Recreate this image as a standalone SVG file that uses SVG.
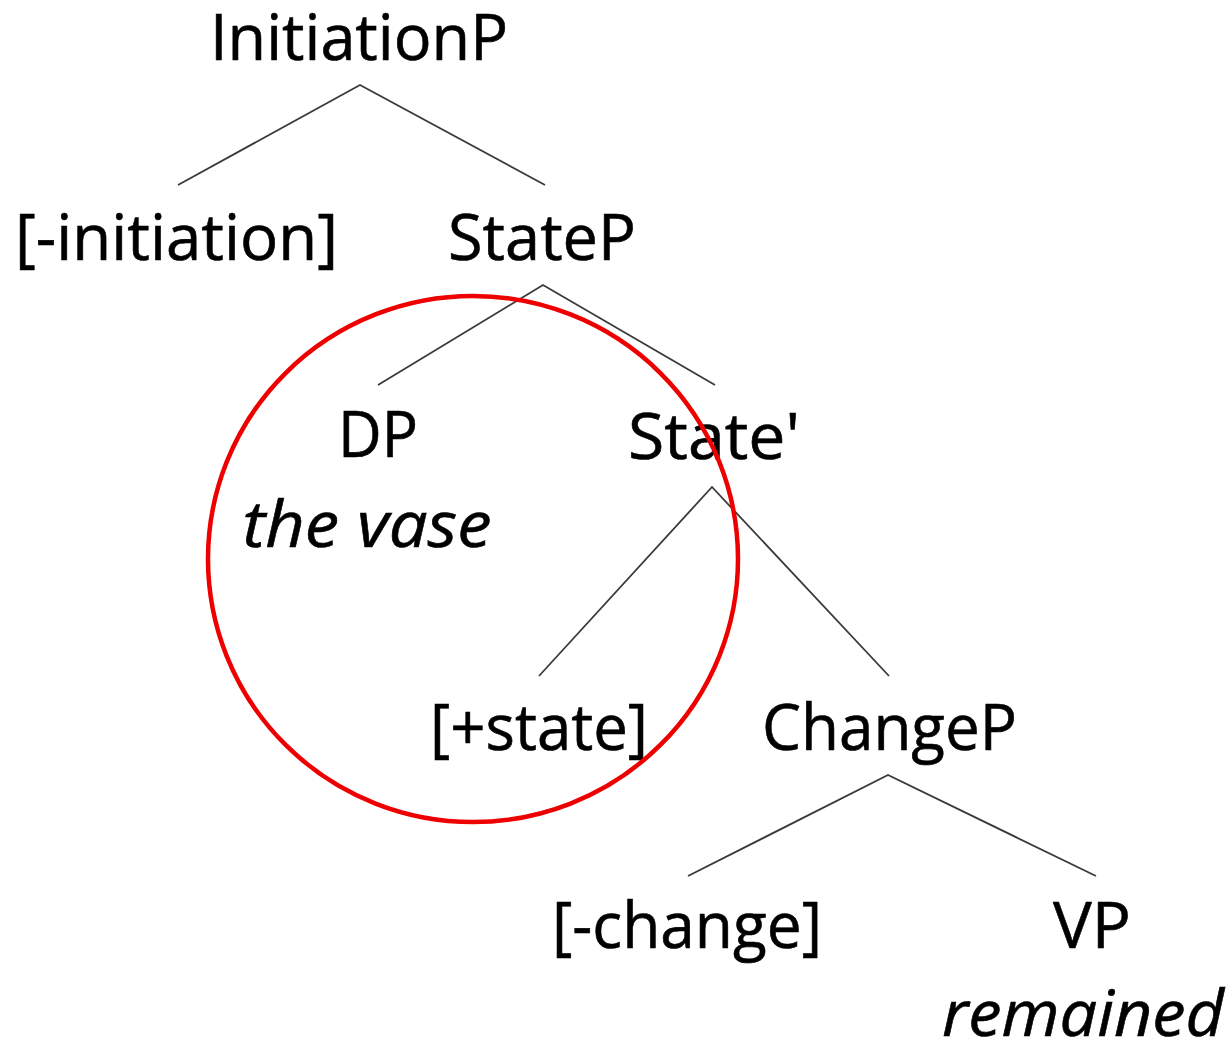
<svg xmlns="http://www.w3.org/2000/svg" width="1232" height="1044" viewBox="0 0 1232 1044">
<style>
text{font-family:"Open Sans","Noto Sans","Liberation Sans",sans-serif;font-size:64px;fill:#000;stroke:#000;stroke-width:0.6;text-anchor:middle}
.it{font-style:italic}
.edge{stroke:#3a3a3a;stroke-width:1.8;fill:none}
</style>
<rect width="1232" height="1044" fill="#fff"/>
<g id="connectors">
<polyline class="edge" points="178,185 360,85 545,185"/>
<polyline class="edge" points="378,385 543,285 715,385"/>
<polyline class="edge" points="539,676 712,487 889,676"/>
<polyline class="edge" points="688,876 888,775 1096,876"/>
</g>
<g id="InitiationP"><text x="359" y="60" textLength="298" lengthAdjust="spacingAndGlyphs">InitiationP</text></g>
<g id="initiation"><text x="176.5" y="260" textLength="323" lengthAdjust="spacingAndGlyphs">[-initiation]</text></g>
<g id="StateP"><text x="542" y="260" textLength="188" lengthAdjust="spacingAndGlyphs">StateP</text></g>
<g id="DP"><text x="378" y="457" textLength="80" lengthAdjust="spacingAndGlyphs">DP</text><text class="it" x="367" y="547" textLength="249" lengthAdjust="spacingAndGlyphs">the vase</text></g>
<g id="StateBar"><text x="714" y="459" textLength="172" lengthAdjust="spacingAndGlyphs">State'</text></g>
<g id="state"><text x="539" y="750" textLength="218" lengthAdjust="spacingAndGlyphs">[+state]</text></g>
<g id="ChangeP"><text x="889.5" y="750" textLength="255" lengthAdjust="spacingAndGlyphs">ChangeP</text></g>
<g id="change"><text x="687" y="948" textLength="270" lengthAdjust="spacingAndGlyphs">[-change]</text></g>
<g id="VP"><text x="1092" y="948" textLength="78" lengthAdjust="spacingAndGlyphs">VP</text><text class="it" x="1083" y="1036" textLength="282" lengthAdjust="spacingAndGlyphs">remained</text></g>
<g id="highlight"><ellipse cx="473" cy="559" rx="265" ry="263" fill="none" stroke="#ee0000" stroke-width="4.5"/></g>
</svg>
